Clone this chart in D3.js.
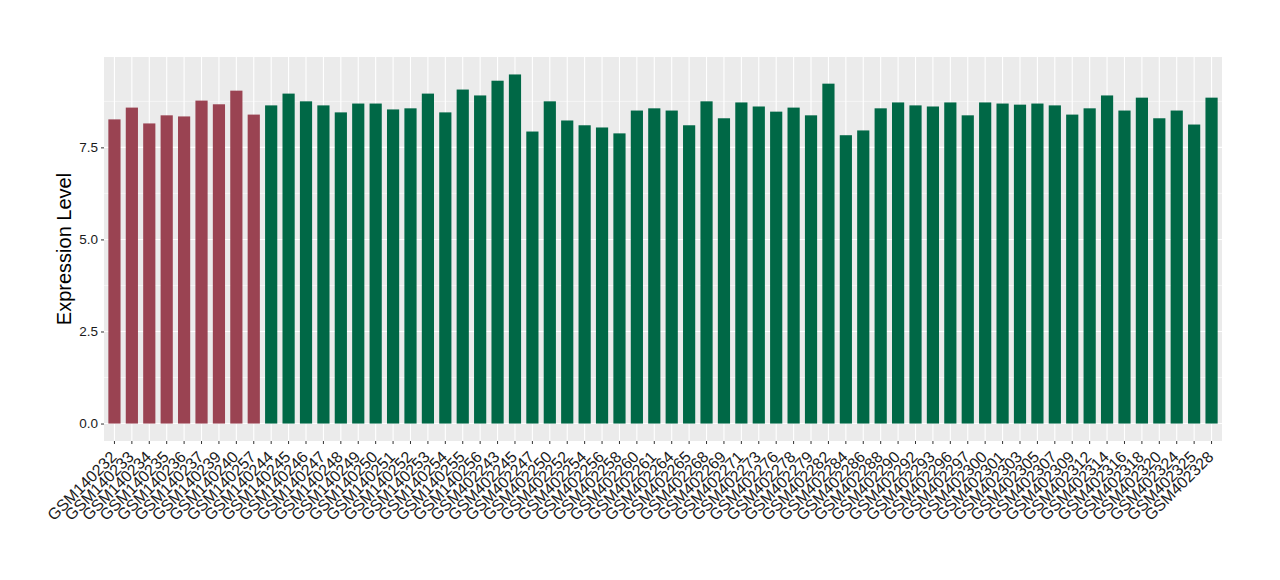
<!DOCTYPE html>
<meta charset="utf-8">
<html>
<head>
  <title>Expression</title>
  <style type="text/css">
    body{margin:0; background:#fff;}
    text{font-family: "Liberation Sans", Arial, sans-serif;}
  </style>
</head>
<body>
  <script src="https://cdn.jsdelivr.net/npm/d3@7/dist/d3.min.js"></script>
  <script>
    var samples = ['GSM140232','GSM140233','GSM140234','GSM140235','GSM140236','GSM140237','GSM140239','GSM140240','GSM140257',
      'GSM140244','GSM140245','GSM140246','GSM140247','GSM140248','GSM140249','GSM140250','GSM140251','GSM140252','GSM140253',
      'GSM140254','GSM140255','GSM140256','GSM402243','GSM402245','GSM402247','GSM402250','GSM402252','GSM402254','GSM402256',
      'GSM402258','GSM402260','GSM402261','GSM402264','GSM402265','GSM402268','GSM402269','GSM402271','GSM402273','GSM402276',
      'GSM402278','GSM402279','GSM402282','GSM402284','GSM402286','GSM402288','GSM402290','GSM402292','GSM402293','GSM402296',
      'GSM402297','GSM402300','GSM402301','GSM402303','GSM402305','GSM402307','GSM402309','GSM402312','GSM402314','GSM402316',
      'GSM402318','GSM402320','GSM402324','GSM402325','GSM402328'];

    var values = [8.26,8.58,8.15,8.37,8.34,8.77,8.67,9.04,8.39,
      8.64,8.96,8.75,8.64,8.45,8.69,8.69,8.53,8.56,8.96,
      8.45,9.07,8.91,9.31,9.48,7.93,8.75,8.23,8.10,8.04,
      7.88,8.50,8.56,8.50,8.10,8.75,8.29,8.72,8.61,8.47,
      8.58,8.37,9.23,7.83,7.96,8.56,8.72,8.64,8.61,8.72,
      8.37,8.72,8.69,8.66,8.69,8.64,8.39,8.56,8.91,8.50,
      8.85,8.29,8.50,8.12,8.85];

    // first 9 samples are one group, the rest the other
    var groups = samples.map(function(s, i){ return i < 9 ? 'a' : 'b'; });
    var colors = {a: '#9a4352', b: '#006846'};

    var yTicks = [0, 2.5, 5, 7.5];

    var width = 1280, height = 580;
    var pLeft = 104, pRight = 1222, pTop = 57, pBottom = 441;

    var svg = d3.select('body').append('svg')
        .attr('width', width)
        .attr('height', height);

    var ymax = d3.max(values);
    var y = d3.scaleLinear()
        .domain([-ymax*0.05, ymax*1.05])
        .range([pBottom, pTop]);

    var unit = (pRight - pLeft) / (samples.length - 1 + 1.2);
    var x = d3.scaleBand()
        .domain(samples)
        .range([pLeft + 0.1*unit, pRight - 0.1*unit])
        .paddingInner(0.3)
        .paddingOuter(0.15);

    function cx(d){ return x(d) + x.bandwidth()/2; }

    svg.append('rect')
      .attr('x', pLeft).attr('y', pTop)
      .attr('width', pRight-pLeft).attr('height', pBottom-pTop)
      .attr('fill', '#ebebeb');

    // minor grid
    var minor = [1.25, 3.75, 6.25, 8.75];
    svg.selectAll('.minor').data(minor).enter().append('line')
      .attr('x1', pLeft).attr('x2', pRight)
      .attr('y1', function(d){return y(d)}).attr('y2', function(d){return y(d)})
      .attr('stroke', '#fff').attr('stroke-width', 0.55);

    svg.selectAll('.hmajor').data(yTicks).enter().append('line')
      .attr('x1', pLeft).attr('x2', pRight)
      .attr('y1', function(d){return y(d)}).attr('y2', function(d){return y(d)})
      .attr('stroke', '#fff').attr('stroke-width', 1.1);

    svg.selectAll('.vmajor').data(samples).enter().append('line')
      .attr('y1', pTop).attr('y2', pBottom)
      .attr('x1', cx).attr('x2', cx)
      .attr('stroke', '#fff').attr('stroke-width', 1.1);

    svg.selectAll('.bar').data(samples).enter().append('rect')
      .attr('x', function(d){return x(d)})
      .attr('width', x.bandwidth())
      .attr('y', function(d, i){return y(values[i])})
      .attr('height', function(d, i){return y(0) - y(values[i])})
      .attr('fill', function(d, i){return colors[groups[i]]});

    // y axis
    var yAxis = d3.axisLeft(y).tickValues(yTicks).tickSize(3).tickPadding(3)
      .tickFormat(d3.format('.1f'));
    var gy = svg.append('g').attr('transform', 'translate(' + pLeft + ',0)').call(yAxis);
    gy.select('.domain').remove();
    gy.selectAll('line').attr('stroke', '#333');
    gy.selectAll('text').attr('fill', '#1a1a1a').style('font-size', '13.5px')
      .style('font-family', '"Liberation Sans", Arial, sans-serif');

    // x axis
    var xAxis = d3.axisBottom(x).tickSize(3).tickPadding(3);
    var gx = svg.append('g').attr('transform', 'translate(0,' + pBottom + ')').call(xAxis);
    gx.select('.domain').remove();
    gx.selectAll('line').attr('stroke', '#333');
    gx.selectAll('text')
      .attr('fill', '#1a1a1a')
      .style('font-size', '16px')
      .style('font-family', '"Liberation Sans", Arial, sans-serif')
      .attr('text-anchor', 'end')
      .attr('dy', null)
      .attr('y', 0)
      .attr('transform', 'translate(3,17) rotate(-45)');

    svg.append('text')
      .attr('transform', 'translate(71,' + ((pTop+pBottom)/2) + ') rotate(-90)')
      .attr('text-anchor', 'middle')
      .style('font-size', '20px')
      .attr('fill', '#000')
      .text('Expression Level');
  </script>
</body>
</html>
